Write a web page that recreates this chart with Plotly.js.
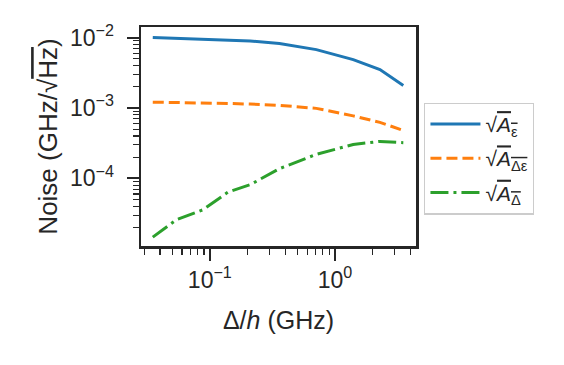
<!DOCTYPE html>
<html>
<head>
<meta charset="utf-8">
<script src="https://cdn.plot.ly/plotly-3.0.1.min.js"></script>
<style>html,body{margin:0;padding:0;background:#fff;}#chart{width:564px;height:365px;}</style>
</head>
<body>
<div id="chart"></div>
<script>
// Δ/h (GHz)
const delta = [0.035, 0.054, 0.088, 0.14, 0.21, 0.36, 0.71, 1.4, 2.29, 3.52];
// sqrt(A_eps)
const aEps = [0.0100, 0.00977, 0.00955, 0.00925, 0.00895, 0.00822, 0.00675, 0.00486, 0.00351, 0.00209];
// sqrt(A_DeltaEps)
const aDeltaEps = [0.00121, 0.00120, 0.00119, 0.00116, 0.001135, 0.00109, 0.000987, 0.000772, 0.000624, 0.000480];
// sqrt(A_Delta)
const aDelta = [0.0000146, 0.0000258, 0.0000357, 0.0000637, 0.0000811, 0.000137, 0.000219, 0.000303, 0.000335, 0.000321];

// tick labels
const xTickVals = [0.1, 1];
const xTickText = ['10<sup>−1</sup>', '10<sup>0</sup>'];
const yTickVals = [1e-4, 1e-3, 1e-2];
const yTickText = ['10<sup>−4</sup>', '10<sup>−3</sup>', '10<sup>−2</sup>'];

const names = [
  "√<span style='text-decoration:overline'><i>A</i><sub>ε</sub></span>",
  "√<span style='text-decoration:overline'><i>A</i><sub>Δε</sub></span>",
  "√<span style='text-decoration:overline'><i>A</i><sub>Δ</sub></span>"
];

const traces = [
  {x: delta, y: aEps, name: names[0], legendgroup: 'a', mode: 'lines',
   line: {color: '#1f77b4', width: 3}},
  {x: delta, y: aDeltaEps, name: names[1], legendgroup: 'b', mode: 'lines',
   line: {color: '#ff7f0e', width: 3, dash: '11px,5px'}},
  {x: delta, y: aDelta, name: names[2], legendgroup: 'c', mode: 'lines',
   line: {color: '#2ca02c', width: 3, dash: '18px,5px,3px,5px'}}
];

const axCommon = {
  type: 'log', showgrid: false, zeroline: false,
  showline: true, mirror: true, linecolor: '#262626', linewidth: 2.5,
  ticks: 'outside', ticklen: 12, tickwidth: 1.8, tickcolor: '#262626',
  tickmode: 'array',
  tickfont: {family: 'Liberation Sans, Arial, sans-serif', size: 23, color: '#262626'},
  minor: {ticks: 'outside', ticklen: 6, tickwidth: 1.2, tickcolor: '#262626', dtick: 'D1', showgrid: false}
};

const layout = {
  width: 564, height: 365,
  margin: {l: 141, r: 148, t: 27, b: 119, pad: 0},
  paper_bgcolor: '#fff', plot_bgcolor: '#fff',
  font: {family: 'Liberation Sans, Arial, sans-serif', color: '#262626'},
  showlegend: true,
  xaxis: Object.assign({}, axCommon, {
    range: [-1.55, 0.648], tickvals: xTickVals, ticktext: xTickText,
    title: {text: 'Δ/<i>h</i> (GHz)', font: {size: 25, color: '#262626'}, standoff: 20}
  }),
  yaxis: Object.assign({}, axCommon, {
    range: [-4.962, -1.849], tickvals: yTickVals, ticktext: yTickText,
    ticklabelstandoff: 8,
    title: {text: "Noise (GHz/√<span style='text-decoration:overline'>Hz</span>)", font: {size: 26, color: '#262626'}, standoff: 5}
  }),
  legend: {
    x: 1.03, y: 0.655, xanchor: 'left', yanchor: 'top',
    bgcolor: '#fff', bordercolor: '#cccccc', borderwidth: 1.2,
    font: {size: 21, color: '#262626'},
    traceorder: 'grouped', tracegroupgap: 4,
    itemwidth: 50
  }
};

Plotly.newPlot('chart', traces, layout, {staticPlot: true, displayModeBar: false});
</script>
</body>
</html>
